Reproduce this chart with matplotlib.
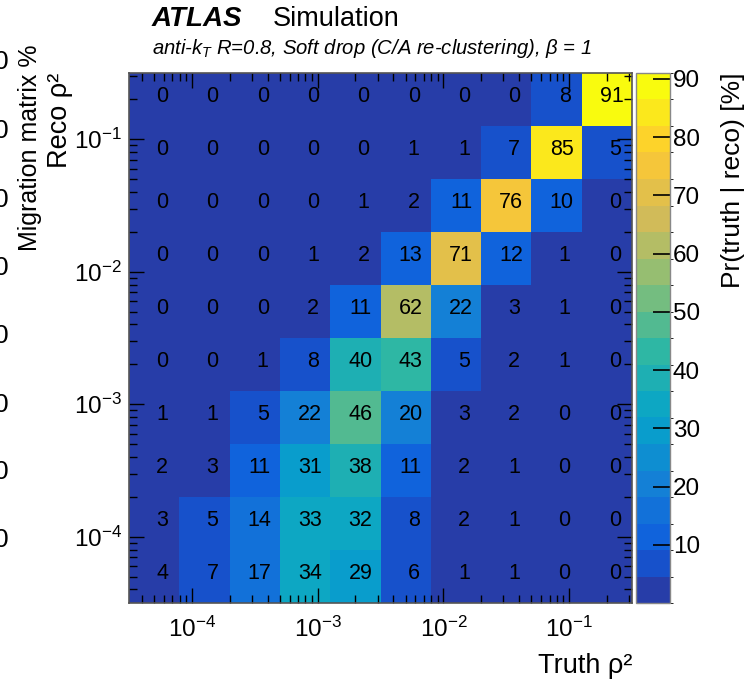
import numpy as np
import matplotlib
matplotlib.use("Agg")
import matplotlib.pyplot as plt
from matplotlib.colors import LinearSegmentedColormap, ListedColormap, BoundaryNorm
from matplotlib import transforms
from matplotlib.ticker import LogLocator, NullFormatter

plt.rcParams['font.family'] = ['Liberation Sans', 'DejaVu Sans']
plt.rcParams['mathtext.fontset'] = 'custom'
plt.rcParams['mathtext.rm'] = 'Liberation Sans'
plt.rcParams['mathtext.it'] = 'Liberation Sans:italic'

# rho^2 binning (same for truth and reco), log-spaced
bin_edges = np.logspace(-4.5, -0.5, 11)

# migration matrix in %, rows = reco bins from highest to lowest, cols = truth bins low -> high
migration = np.array([
    [0, 0, 0, 0, 0, 0, 0, 0, 8, 91],
    [0, 0, 0, 0, 0, 1, 1, 7, 85, 5],
    [0, 0, 0, 0, 1, 2, 11, 76, 10, 0],
    [0, 0, 0, 1, 2, 13, 71, 12, 1, 0],
    [0, 0, 0, 2, 11, 62, 22, 3, 1, 0],
    [0, 0, 1, 8, 40, 43, 5, 2, 1, 0],
    [1, 1, 5, 22, 46, 20, 3, 2, 0, 0],
    [2, 3, 11, 31, 38, 11, 2, 1, 0, 0],
    [3, 5, 14, 33, 32, 8, 2, 1, 0, 0],
    [4, 7, 17, 34, 29, 6, 1, 1, 0, 0],
])
zmax = 91
n_contours = 20

# ROOT kBird palette
stops = [0.0, 0.125, 0.25, 0.375, 0.5, 0.625, 0.75, 0.875, 1.0]
red = [0.2082, 0.0592, 0.0780, 0.0232, 0.1802, 0.5301, 0.8186, 0.9956, 0.9764]
green = [0.1664, 0.3599, 0.5041, 0.6419, 0.7178, 0.7492, 0.7328, 0.7862, 0.9832]
blue = [0.5293, 0.8684, 0.8385, 0.7914, 0.6425, 0.4662, 0.3499, 0.1968, 0.0539]
bird = LinearSegmentedColormap.from_list(
    'bird', list(zip(stops, zip(red, green, blue))), N=255)

# one colour per contour level, picked the way ROOT does it
band_cols = []
for i in range(n_contours):
    idx = int((i + 0.99) * 255 / n_contours)
    band_cols.append(bird(min(idx, 254) / 254))
cmap = ListedColormap(band_cols)
levels = np.linspace(0, zmax, n_contours + 1)
norm = BoundaryNorm(levels, n_contours)

fig = plt.figure(figsize=(7.56, 6.84), dpi=100)
W, H = 756, 684
ax = fig.add_axes([129 / W, 1 - 603 / H, 503 / W, 530 / H])
cax = fig.add_axes([636 / W, 1 - 603 / H, 34 / W, 530 / H])

mesh = ax.pcolormesh(bin_edges, bin_edges, migration[::-1], cmap=cmap, norm=norm)
ax.set_xscale('log')
ax.set_yscale('log')
ax.set_xlim(bin_edges[0], bin_edges[-1])
ax.set_ylim(bin_edges[0], bin_edges[-1])

# cell contents
centres = np.sqrt(bin_edges[:-1] * bin_edges[1:])
nrow = migration.shape[0]
for r in range(nrow):
    for c in range(migration.shape[1]):
        v = migration[r, c]
        s = '%d' % v
        dx = 5.8 if len(s) == 1 else 3.6
        tr = transforms.offset_copy(ax.transData, fig=fig, x=dx, y=2.5, units='points')
        ax.text(centres[c], centres[nrow - 1 - r], s, transform=tr,
                ha='center', va='center', fontsize=15.5, color='black')

for a in (ax.xaxis, ax.yaxis):
    a.set_major_locator(LogLocator(base=10, numticks=10))
    a.set_minor_locator(LogLocator(base=10, subs=np.arange(2, 10), numticks=20))
    a.set_minor_formatter(NullFormatter())
ax.tick_params(which='both', direction='in', top=True, right=True, width=1)
ax.tick_params(which='major', length=11, labelsize=17.5)
ax.tick_params(which='minor', length=6)
ax.tick_params(axis='x', which='major', pad=10)
ax.tick_params(axis='y', which='major', pad=5)
for sp in ax.spines.values():
    sp.set_linewidth(1.2)
    sp.set_color('#555555')

ax.set_xlabel('Truth ρ²', fontsize=19.5, loc='right')
ax.xaxis.set_label_coords(1.0, -0.095)
ax.set_ylabel('Reco ρ²', fontsize=19.5, loc='top')
ax.yaxis.set_label_coords(-0.112, 1.0)

cb = fig.colorbar(mesh, cax=cax, ticks=np.arange(10, 91, 10))
cb.outline.set_edgecolor('#888888')
cb.outline.set_linewidth(1.0)
cax.tick_params(direction='in', length=12, width=1.2, labelsize=17.5, pad=2)
cb.set_label('Pr(truth | reco) [%]', fontsize=19, loc='top')
cax.yaxis.set_label_coords(2.5, 1.0)

fig.text(152 / W, 1 - 19 / H, 'ATLAS', fontsize=20, fontweight='bold',
         fontstyle='italic', va='center', ha='left')
fig.text(273 / W, 1 - 19 / H, 'Simulation', fontsize=19.5, va='center', ha='left')
fig.text(152 / W, 1 - 48 / H,
         r'anti-$k_{T}$ R=0.8, Soft drop (C/A re-clustering), $\beta$ = 1',
         fontsize=14.6, fontstyle='italic', va='center', ha='left')

# left-hand neighbour panel, clipped at the figure edge
fig.text(30 / W, 1 - 148 / H, 'Migration matrix %', fontsize=18,
         rotation=90, ha='center', va='center')
for yy in [62, 131, 200, 268, 336, 405, 472, 540]:
    fig.text(9 / W, 1 - yy / H, '0', fontsize=19, ha='right', va='center')

fig.savefig('out.png', dpi=100)
